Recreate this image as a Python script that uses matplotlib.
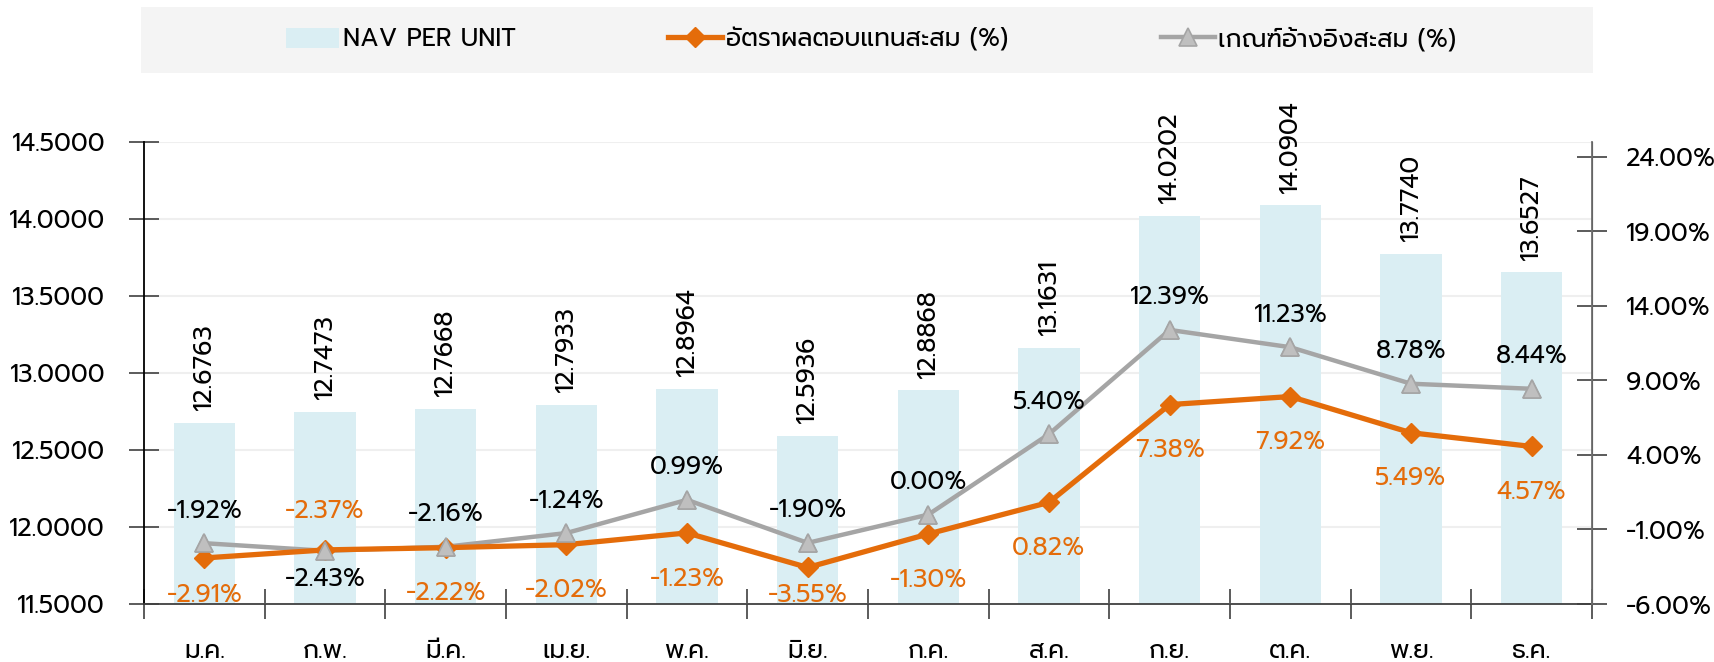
import matplotlib
matplotlib.use("Agg")
import matplotlib.pyplot as plt
from matplotlib.patches import Rectangle
import numpy as np

# data
months = ['ม.ค.', 'ก.พ.', 'มี.ค.', 'เม.ย.', 'พ.ค.', 'มิ.ย.',
          'ก.ค.', 'ส.ค.', 'ก.ย.', 'ต.ค.', 'พ.ย.', 'ธ.ค.']
nav = [12.6763, 12.7473, 12.7668, 12.7933, 12.8964, 12.5936,
       12.8868, 13.1631, 14.0202, 14.0904, 13.7740, 13.6527]
fund_ret = [-2.91, -2.37, -2.22, -2.02, -1.23, -3.55, -1.30, 0.82, 7.38, 7.92, 5.49, 4.57]
bench_ret = [-1.92, -2.43, -2.16, -1.24, 0.99, -1.90, 0.00, 5.40, 12.39, 11.23, 8.78, 8.44]

# which side the value labels sit on
fund_label_above = [False, True] + [False] * 10
bench_label_above = [True, False] + [True] * 10

nav_label = 'NAV PER UNIT'
fund_label = 'อัตราผลตอบแทนสะสม (%)'
bench_label = 'เกณฑ์อ้างอิงสะสม (%)'

#%%
plt.rcParams['font.family'] = ['Prompt', 'DejaVu Sans']
FS = 18

ORANGE = '#E46C0A'
GREY = '#A5A5A5'
BAR = '#DAEEF3'

W, H = 1715, 662
fig = plt.figure(figsize=(W / 100, H / 100), dpi=100)
ax = fig.add_axes([144 / W, 1 - 604 / H, (1592 - 144) / W, (604 - 142) / H])

x = np.arange(len(months))
bars = ax.bar(x, nav, width=0.51, color=BAR, zorder=1)
ax.set_xlim(-0.5, len(months) - 0.5)
ax.set_ylim(11.5, 14.5)
ax.set_yticks(np.arange(11.5, 14.51, 0.5))
ax.set_yticklabels([f'{v:.4f}' for v in np.arange(11.5, 14.51, 0.5)])
ax.yaxis.grid(True, color='#EFEFEF', lw=1.5)
ax.set_axisbelow(True)

for xi, v in zip(x, nav):
    ax.annotate(f'{v:.4f}', (xi, v), xytext=(0, 9), textcoords='offset points',
                rotation=90, ha='center', va='bottom', fontsize=FS)

ax2 = ax.twinx()
ax2.set_ylim(-6, 25)
ax2.set_yticks(np.arange(-6, 25, 5))
ax2.set_yticklabels([f'{v:.2f}%' for v in np.arange(-6, 25, 5)])

bench_line, = ax2.plot(x, bench_ret, color=GREY, lw=3.2, marker='^', ms=13,
                       mfc='#BFBFBF', mec=GREY, mew=1.2, zorder=3)
fund_line, = ax2.plot(x, fund_ret, color=ORANGE, lw=3.8, marker='D', ms=10,
                      mfc=ORANGE, mec=ORANGE, zorder=4)
ax2.plot(x, bench_ret, ls='none', marker='^', ms=13, mfc='#BFBFBF', mec=GREY,
         mew=1.2, zorder=5)

for xi, v, up in zip(x, fund_ret, fund_label_above):
    y = v + 2.55 if up else max(v - 3.1, -5.4)
    ax2.text(xi, y, f'{v:.2f}%', ha='center', va='center', color=ORANGE, fontsize=FS, zorder=6)
for xi, v, up in zip(x, bench_ret, bench_label_above):
    y = v + 2.15 if up else v - 1.9
    ax2.text(xi, y, f'{v:.2f}%', ha='center', va='center', color='black', fontsize=FS, zorder=6)

# axes styling
ax.set_xticks(np.arange(-0.5, len(months)))
ax.set_xticklabels([])
ax.set_xticks(x, minor=True)
ax.set_xticklabels(months, minor=True, fontsize=FS)
ax.tick_params(axis='x', which='major', direction='inout', length=21, width=1.2, color='#404040')
ax.tick_params(axis='x', which='minor', length=0, pad=25)
ax.tick_params(axis='y', direction='inout', length=22, width=1.2, color='#404040',
               pad=17, labelsize=FS)
ax2.tick_params(axis='y', direction='inout', length=21, width=1.2, color='#404040',
                pad=14, labelsize=FS)

ax.spines['top'].set_visible(False)
ax2.spines['top'].set_visible(False)
ax.spines['left'].set_linewidth(1.3)
ax.spines['left'].set_color('black')
ax.spines['bottom'].set_linewidth(1.3)
ax.spines['bottom'].set_color('#404040')
ax2.spines['right'].set_color('#707070')
ax2.spines['right'].set_linewidth(1.3)
ax2.spines['left'].set_visible(False)
ax2.spines['bottom'].set_visible(False)

# legend on a grey band
fig.add_artist(Rectangle((141 / W, 1 - 73 / H), (1593 - 141) / W, 66 / H,
                         transform=fig.transFigure, facecolor='#F4F4F4',
                         edgecolor='none', zorder=0))
fig.legend([bars, fund_line, bench_line], [nav_label, fund_label, bench_label],
           loc='center', bbox_to_anchor=(871 / W, 1 - 40 / H), ncol=3,
           frameon=False, fontsize=FS, handlelength=2.15, handleheight=0.85,
           handletextpad=0.15, columnspacing=6.1)

fig.savefig('out.png', dpi=100)
